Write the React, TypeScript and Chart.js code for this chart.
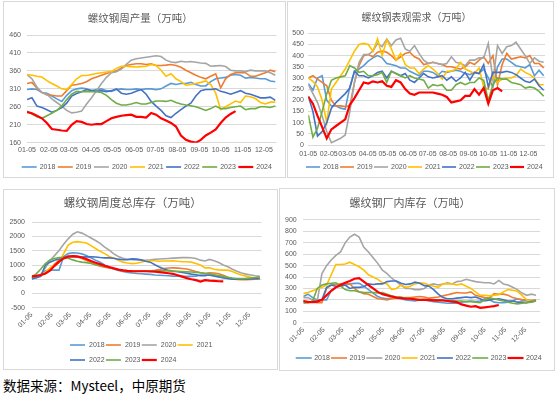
import React, { useEffect, useRef } from 'react';
import { Chart, registerables } from 'chart.js';

Chart.register(...registerables);

const FONT = "'Noto Sans CJK SC', 'Noto Sans', sans-serif";
const NUM_FONT = "'Liberation Sans', Arial, sans-serif";
const YEARS = ['2018', '2019', '2020', '2021', '2022', '2023', '2024'];
const COLORS = ['#5B9BD5', '#ED7D31', '#A5A5A5', '#FFC000', '#4472C4', '#70AD47', '#FF0000'];
const WIDTHS = [1.6, 1.6, 1.6, 1.6, 1.6, 1.6, 2.2];
const MONTH_TICKS = [0, 31, 59, 90, 120, 151, 181, 212, 243, 273, 304, 334];
const MONTH_LABELS = ['01-05', '02-05', '03-05', '04-05', '05-05', '06-05', '07-05', '08-05', '09-05', '10-05', '11-05', '12-05'];

// 螺纹钢周产量（万吨）
const PROD_2018 = [308,310,308,300,298,290,282,275,292,305,310,312,310,305,308,310,305,303,308,310,308,308,310,308,310,310,308,310,318,325,322,325,325,328,322,318,318,330,338,340,342,348,350,348,340,342,340,338,338,332,330];
const PROD_2019 = [325,328,312,300,293,292,290,290,305,320,322,325,330,338,343,348,353,357,360,368,375,378,380,380,378,380,375,375,376,378,375,370,362,355,348,342,338,345,352,313,338,350,355,355,355,345,345,350,355,362,358];
const PROD_2020 = [350,338,315,300,295,282,272,262,250,243,245,248,268,285,305,325,342,355,358,365,378,390,394,396,398,400,402,400,390,385,383,387,385,386,384,382,381,373,374,375,372,362,360,360,358,362,360,360,360,355,348];
const PROD_2021 = [350,348,345,343,333,325,318,310,308,322,338,347,347,350,353,355,357,358,367,373,373,372,371,372,373,378,375,362,345,352,338,330,320,322,325,328,332,322,298,252,260,268,276,272,290,288,283,272,268,273,273];
const PROD_2022 = [280,285,262,258,252,245,250,258,270,290,297,302,308,305,303,305,302,305,310,298,295,298,303,308,295,275,262,250,235,230,242,252,262,270,290,305,308,308,310,303,300,295,300,305,298,295,290,285,285,287,278];
const PROD_2023 = [248,240,232,228,235,242,250,262,280,295,303,302,303,302,302,300,292,280,270,265,265,268,272,268,268,272,276,276,275,278,272,268,265,263,260,255,250,255,262,255,255,258,260,262,252,255,255,260,260,258,262];
const PROD_2024 = [245,242,235,228,215,198,196,194,193,210,220,218,212,210,212,212,220,228,232,235,237,238,232,232,230,243,238,228,222,215,205,180,168,163,160,168,180,188,197,215,230,240,248];

// 螺纹钢表观需求（万吨）
const DEM_2018 = [275,245,300,310,200,175,175,165,160,260,330,340,355,375,390,400,390,365,360,355,345,345,330,320,310,330,330,325,310,330,325,330,335,330,320,315,325,320,340,300,260,350,385,385,370,355,350,345,360,310,335,310];
const DEM_2019 = [300,310,295,280,265,200,175,175,172,175,280,355,400,405,395,415,420,415,400,380,395,410,415,395,385,360,365,370,365,360,350,350,345,340,350,370,360,380,395,365,400,270,360,410,385,390,395,390,400,365,365,345];
const DEM_2020 = [270,230,190,130,60,10,20,30,45,150,280,370,405,405,420,455,440,475,445,470,478,430,420,445,410,380,365,370,365,360,365,395,370,365,355,380,380,390,390,455,290,445,410,440,445,460,430,400,365,390,375,370];
const DEM_2021 = [300,285,260,200,100,250,280,310,340,380,420,450,455,450,420,475,400,470,430,380,410,360,345,345,320,340,355,340,320,295,330,330,340,370,340,330,320,345,260,250,310,280,295,300,300,310,340,325,315,300,270,270];
const DEM_2022 = [220,150,40,60,100,165,190,210,230,255,330,310,310,300,310,325,330,300,330,320,310,320,290,280,300,320,305,300,305,310,290,305,285,300,325,290,325,320,360,260,325,325,325,330,325,315,300,285,280,295,265,245];
const DEM_2023 = [135,35,75,150,230,290,300,305,310,355,345,325,330,310,310,315,325,280,330,320,310,300,310,300,295,290,255,270,265,270,245,245,270,280,270,280,280,300,290,200,270,300,295,295,280,275,270,255,260,255,240,218];
const DEM_2024 = [215,185,130,80,30,70,85,100,115,180,210,245,280,275,285,280,285,265,260,290,280,250,230,225,235,235,235,235,230,225,215,190,195,200,220,220,250,225,255,185,245,255,240];

// 螺纹钢周度总库存（万吨）
const STK_2018 = [500,550,650,800,820,820,820,1300,1400,1430,1420,1390,1330,1250,1170,1100,1000,920,860,810,770,740,720,700,690,680,670,650,640,630,620,610,610,600,600,600,610,650,650,640,610,580,550,530,520,510,500,500,510,510,520];
const STK_2019 = [550,600,640,700,850,1030,1170,1280,1320,1320,1280,1230,1160,1090,1010,960,925,900,880,845,815,790,775,772,780,790,800,815,845,875,895,900,890,875,860,815,770,730,700,730,720,690,640,570,510,490,480,480,490,500,520];
const STK_2020 = [550,600,680,900,1150,1330,1510,1730,1920,2080,2165,2120,2040,1950,1860,1760,1630,1520,1390,1300,1235,1200,1185,1175,1165,1165,1180,1200,1210,1220,1230,1240,1250,1260,1260,1255,1230,1170,1140,1195,1150,1090,1000,940,850,780,720,680,650,620,600];
const STK_2021 = [550,600,650,750,900,1000,1080,1400,1700,1800,1820,1800,1770,1680,1580,1480,1400,1300,1240,1170,1100,1070,1050,1060,1100,1150,1160,1150,1130,1140,1140,1150,1130,1120,1115,1100,1050,1000,900,900,850,830,820,820,770,700,650,610,570,540,520];
const STK_2022 = [530,550,600,1000,1100,1170,1210,1270,1295,1290,1282,1280,1285,1288,1280,1262,1250,1250,1235,1205,1185,1190,1215,1205,1180,1130,1100,1010,930,860,810,785,765,740,710,680,655,620,620,655,625,590,555,525,505,500,500,505,510,520,530];
const STK_2023 = [580,690,860,1050,1180,1230,1260,1265,1240,1180,1130,1100,1082,1055,1010,985,955,910,875,840,810,795,785,780,785,790,795,800,800,800,795,785,780,770,760,752,742,730,705,690,660,630,600,570,545,525,520,530,545,560,580];
const STK_2024 = [600,620,650,700,800,970,1120,1230,1290,1310,1300,1265,1210,1140,1080,1030,975,925,880,840,810,795,785,780,780,780,772,765,752,730,710,690,640,590,540,500,470,420,470,450,440,430,425];

// 螺纹钢厂内库存（万吨）
const FAC_2018 = [230,250,220,200,200,200,280,310,320,330,340,345,345,320,290,260,230,215,210,215,215,210,200,195,190,200,200,190,185,180,175,170,170,170,180,185,190,185,190,210,200,180,175,175,180,190,210,200,190,190,200];
const FAC_2019 = [190,185,180,175,175,300,330,335,340,345,340,300,270,255,250,230,210,205,200,210,215,215,220,220,225,230,225,215,220,225,235,245,255,265,260,260,270,240,230,220,215,255,250,250,240,220,210,200,200,195,200];
const FAC_2020 = [220,220,200,190,430,500,550,590,620,700,750,775,750,660,620,570,520,460,430,390,360,330,300,300,290,290,300,330,340,330,340,350,340,360,365,380,370,360,355,350,350,340,370,340,330,310,290,260,240,250,240];
const FAC_2021 = [255,265,280,295,310,330,420,510,510,515,530,510,490,460,420,400,380,350,340,290,300,330,310,320,340,350,345,330,320,310,340,340,340,330,340,320,300,270,240,240,235,240,245,270,290,285,275,240,200,185,195];
const FAC_2022 = [185,180,185,190,200,310,330,320,320,330,300,310,310,315,340,335,340,340,360,365,365,345,335,340,355,345,325,320,290,250,220,210,210,215,220,225,220,225,210,190,200,205,210,200,190,190,180,180,175,185,190];
const FAC_2023 = [170,175,190,300,330,340,345,350,320,290,280,280,270,265,265,265,260,265,250,235,225,225,215,210,205,200,205,200,200,200,195,195,195,190,190,185,185,180,175,200,215,210,200,190,180,170,165,170,175,180,190];
const FAC_2024 = [190,180,180,185,200,240,280,310,330,350,365,385,390,360,330,300,270,250,240,230,220,215,210,210,205,200,200,200,195,195,195,190,185,180,160,150,140,145,130,135,140,145,155];

const PROD = [PROD_2018, PROD_2019, PROD_2020, PROD_2021, PROD_2022, PROD_2023, PROD_2024];
const DEM = [DEM_2018, DEM_2019, DEM_2020, DEM_2021, DEM_2022, DEM_2023, DEM_2024];
const STK = [STK_2018, STK_2019, STK_2020, STK_2021, STK_2022, STK_2023, STK_2024];
const FAC = [FAC_2018, FAC_2019, FAC_2020, FAC_2021, FAC_2022, FAC_2023, FAC_2024];

const TICK_SIZE = 7;

const customLegend = {
  id: 'customLegend',
  afterDraw(chart: any, _args: any, opts: any) {
    const ctx = chart.ctx;
    ctx.save();
    ctx.font = `${opts.fontSize}px ${NUM_FONT}`;
    ctx.textBaseline = 'middle';
    ctx.textAlign = 'left';
    chart.data.datasets.forEach((ds: any, i: number) => {
      const row = Math.floor(i / opts.perRow);
      const col = i % opts.perRow;
      const x = opts.left + col * opts.pitch;
      const y = opts.top + row * opts.rowGap;
      ctx.strokeStyle = ds.borderColor;
      ctx.lineWidth = ds.borderWidth;
      ctx.beginPath();
      ctx.moveTo(x, y);
      ctx.lineTo(x + opts.lineLen, y);
      ctx.stroke();
      ctx.fillStyle = '#595959';
      ctx.fillText(ds.label, x + opts.lineLen + opts.gap, y);
    });
    ctx.restore();
  },
};

type PanelCfg = {
  box: { left: number; top: number; w: number; h: number };
  title: string;
  titleSize: number;
  titlePad: { top: number; bottom: number };
  series: number[][];
  yMin: number; yMax: number; yStep: number;
  xMax: number; rot: number;
  yW: number; yPad: number; xH: number; xPad: number;
  padR: number; padB: number;
  legend: { left: number; top: number; pitch: number; perRow: number; rowGap: number; lineLen: number; gap: number };
};

const PANELS: PanelCfg[] = [
  {
    box: { left: 3, top: 1, w: 283, h: 177 },
    title: '螺纹钢周产量（万吨）', titleSize: 10.5, titlePad: { top: 9.7, bottom: 10.7 },
    series: PROD, yMin: 160, yMax: 460, yStep: 50, xMax: 352, rot: 0,
    yW: 23, yPad: 6, xH: 16, xPad: 3.5, padR: 8.3, padB: 18.3,
    legend: { left: 17.7, top: 165, pitch: 36.1, perRow: 7, rowGap: 0, lineLen: 15, gap: 3 },
  },
  {
    box: { left: 287, top: 1, w: 267, h: 177 },
    title: '螺纹钢表观需求（万吨）', titleSize: 10, titlePad: { top: 9, bottom: 10.3 },
    series: DEM, yMin: 0, yMax: 500, yStep: 50, xMax: 359, rot: 0,
    yW: 20.3, yPad: 4.3, xH: 16, xPad: 5, padR: 8, padB: 16,
    legend: { left: 18, top: 165, pitch: 34, perRow: 7, rowGap: 0, lineLen: 14, gap: 3 },
  },
  {
    box: { left: 3, top: 189, w: 275, h: 181 },
    title: '螺纹钢周度总库存（万吨）', titleSize: 11.5, titlePad: { top: 6.1, bottom: 12.4 },
    series: STK, yMin: -500, yMax: 2500, yStep: 500, xMax: 353, rot: 45,
    yW: 27.7, yPad: 6.7, xH: 30, xPad: 3, padR: 15.3, padB: 31.3,
    legend: { left: 66, top: 155, pitch: 35.9, perRow: 4, rowGap: 15, lineLen: 15, gap: 4 },
  },
  {
    box: { left: 279, top: 188, w: 276, h: 183 },
    title: '螺纹钢厂内库存（万吨）', titleSize: 11, titlePad: { top: 7.1, bottom: 10.7 },
    series: FAC, yMin: 0, yMax: 900, yStep: 100, xMax: 356, rot: 45,
    yW: 23.3, yPad: 6.6, xH: 26, xPad: 3, padR: 14, padB: 21.3,
    legend: { left: 15.7, top: 169, pitch: 35.3, perRow: 7, rowGap: 0, lineLen: 16, gap: 2.5 },
  },
];

function Panel({ cfg }: { cfg: PanelCfg }) {
  const ref = useRef<HTMLCanvasElement>(null);
  const cw = cfg.box.w - 2;
  const ch = cfg.box.h - 2;
  useEffect(() => {
    if (!ref.current) return;
    const datasets = cfg.series.map((vals, i) => ({
      label: YEARS[i],
      data: vals.map((v, k) => ({ x: k * 7, y: v })),
      borderColor: COLORS[i],
      backgroundColor: COLORS[i],
      borderWidth: WIDTHS[i],
      pointRadius: 0,
      tension: 0,
      fill: false,
      order: 6 - i,
    }));
    const tickFont = { size: TICK_SIZE, family: NUM_FONT };
    const chart = new Chart(ref.current, {
      type: 'line',
      data: { datasets },
      plugins: [customLegend],
      options: {
        responsive: false,
        animation: false,
        devicePixelRatio: 1,
        events: [],
        layout: { padding: { left: 0, right: cfg.padR, top: 0, bottom: cfg.padB } },
        plugins: {
          legend: { display: false },
          tooltip: { enabled: false },
          title: {
            display: true,
            text: cfg.title,
            color: '#595959',
            font: { size: cfg.titleSize, family: FONT, weight: 'normal' },
            padding: cfg.titlePad,
          },
          customLegend: { ...cfg.legend, fontSize: TICK_SIZE },
        } as any,
        scales: {
          x: {
            type: 'linear',
            min: 0,
            max: cfg.xMax,
            grid: { display: false, drawTicks: false },
            border: { display: false },
            afterBuildTicks: (s: any) => {
              s.ticks = MONTH_TICKS.map((v) => ({ value: v }));
            },
            afterFit: (s: any) => {
              s.height = cfg.xH;
            },
            ticks: {
              autoSkip: false,
              minRotation: cfg.rot,
              maxRotation: cfg.rot,
              padding: cfg.xPad,
              color: '#595959',
              font: tickFont,
              callback: (v: any) => {
                const k = MONTH_TICKS.indexOf(Number(v));
                return k >= 0 ? MONTH_LABELS[k] : '';
              },
            },
          },
          y: {
            min: cfg.yMin,
            max: cfg.yMax,
            grid: { color: '#d9d9d9', drawTicks: false, lineWidth: 1 },
            border: { display: false },
            afterFit: (s: any) => {
              s.width = cfg.yW;
            },
            ticks: {
              stepSize: cfg.yStep,
              autoSkip: false,
              padding: cfg.yPad,
              color: '#595959',
              font: tickFont,
              callback: (v: any) => String(v),
            },
          },
        },
      } as any,
    });
    return () => chart.destroy();
  }, []);
  return (
    <div
      style={{
        position: 'absolute',
        left: cfg.box.left,
        top: cfg.box.top,
        width: cfg.box.w,
        height: cfg.box.h,
        border: '1px solid #d9d9d9',
        boxSizing: 'border-box',
        background: '#fff',
      }}
    >
      <canvas ref={ref} width={cw} height={ch} style={{ display: 'block', width: cw, height: ch }} />
    </div>
  );
}

export default function App() {
  return (
    <div style={{ position: 'fixed', left: 0, top: 0, width: 559, height: 396, background: '#fff', overflow: 'hidden' }}>
      {PANELS.map((p, i) => (
        <Panel key={i} cfg={p} />
      ))}
      <div
        style={{
          position: 'absolute',
          left: 3,
          top: 376,
          fontSize: 13.5,
          lineHeight: '18px',
          fontFamily: FONT,
          color: '#000',
          whiteSpace: 'nowrap',
        }}
      >
        数据来源：Mysteel，中原期货
      </div>
    </div>
  );
}
